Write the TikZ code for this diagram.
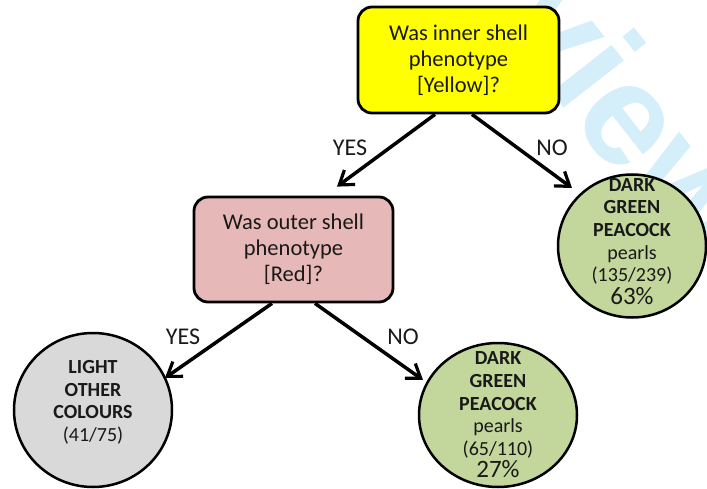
\documentclass[tikz,border=0pt]{standalone}
\usepackage{fontspec}
\setmainfont{Carlito}
\newfontfamily\wmfont{Liberation Sans}
\usetikzlibrary{arrows.meta,shapes.geometric}
\definecolor{qyellow}{HTML}{FFFF00}
\definecolor{qpink}{HTML}{E6B9B8}
\definecolor{leafgreen}{HTML}{C3D69B}
\definecolor{leafgrey}{HTML}{D9D9D9}
\definecolor{wmark}{HTML}{D4EEFA}
\begin{document}
\begin{tikzpicture}[x=1pt,y=-1pt,
  question/.style={draw=black, line width=2.8pt, rounded corners=14pt,
    align=center, inner sep=0pt, text=black!90,
    font=\fontsize{22.5}{26}\selectfont},
  leaf/.style={ellipse, draw=black, line width=2.5pt, inner sep=0pt},
  leaftext/.style={align=center, inner sep=0pt, text=black!90,
    font=\fontsize{20}{22.6}\selectfont},
  branch/.style={line width=3.5pt,
    -{Straight Barb[length=13pt,width=18pt,line width=3.2pt]}},
  answer/.style={font=\fontsize{24}{28}\selectfont, text=black!90},
]
\useasboundingbox (0,0) rectangle (707,489);

% faint watermark behind the chart
\node[text=wmark, font=\wmfont\bfseries\fontsize{145}{145}\selectfont,
  rotate=-52] (wm) at (633,113) {view};

% decision boxes
\node[question, fill=qyellow, minimum width=201pt, minimum height=106pt]
  (q1) at (458.5,60) {Was inner shell\\phenotype\\{[Yellow]?}};
\node[question, fill=qpink, minimum width=199pt, minimum height=105pt]
  (q2) at (293.5,249.5) {Was outer shell\\phenotype\\{[Red]?}};

% outcome circles
\node[leaf, fill=leafgreen, minimum width=148pt, minimum height=143pt]
  (g1) at (632,246) {};
\node[leaftext] (g1t) at (632,241.5)
  {\textbf{DARK}\\\textbf{GREEN}\\\textbf{PEACOCK}\\pearls\\(135/239)\\{\fontsize{25}{22.6}\selectfont 63\%}};

\node[leaf, fill=leafgreen, minimum width=158pt, minimum height=144pt]
  (g2) at (498,415) {};
\node[leaftext] (g2t) at (498,415)
  {\textbf{DARK}\\\textbf{GREEN}\\\textbf{PEACOCK}\\pearls\\(65/110)\\{\fontsize{25}{22.6}\selectfont 27\%}};

\node[leaf, fill=leafgrey, minimum width=158pt, minimum height=154pt]
  (l1) at (93,410) {};
\node[leaftext] (l1t) at (93,402.5)
  {\textbf{LIGHT}\\\textbf{OTHER}\\\textbf{COLOURS}\\(41/75)};

% branches
\draw[branch] ([xshift=-23.5pt]q1.south) -- ([shift={(43.5,-9)}]q2.north);
\draw[branch] ([xshift=13.5pt]q1.south) -- ([shift={(-60,-58)}]g1.center);
\draw[branch] ([xshift=-21.5pt]q2.south) -- ([shift={(72,-32)}]l1.center);
\draw[branch] ([xshift=21.5pt]q2.south) -- ([shift={(-75,-35)}]g2.center);

% branch labels
\node[answer] (a1) at (350,148) {YES};
\node[answer] (a2) at (552,148) {NO};
\node[answer] (a3) at (183,337) {YES};
\node[answer] (a4) at (403,337) {NO};
\end{tikzpicture}
\end{document}
